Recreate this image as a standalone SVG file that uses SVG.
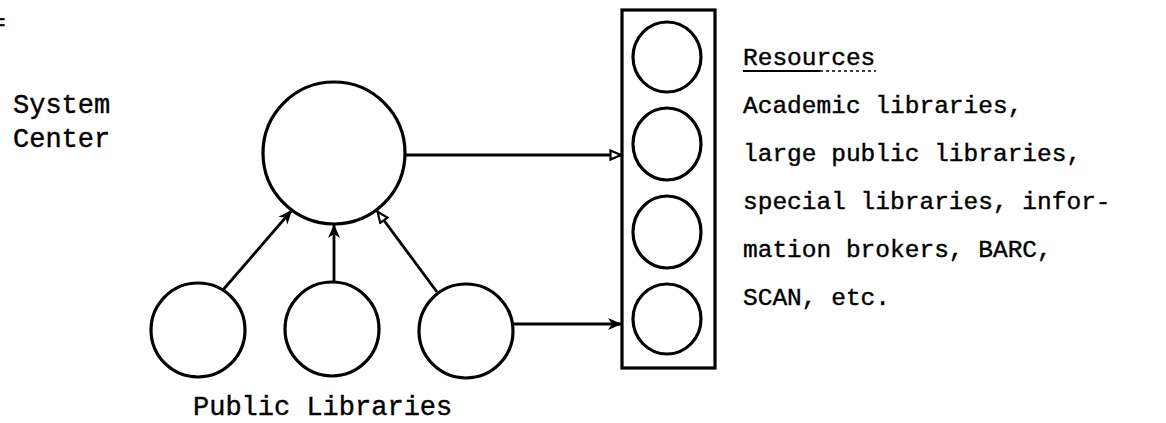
<svg xmlns="http://www.w3.org/2000/svg" width="1166" height="423" viewBox="0 0 1166 423">
  <defs>
    <marker id="head" markerUnits="userSpaceOnUse" markerWidth="16" markerHeight="14" refX="14" refY="6" orient="auto">
      <path d="M0,0 L14,6 L0,12 L4,6 z" fill="#000"/>
    </marker>
    <marker id="head-open" markerUnits="userSpaceOnUse" markerWidth="16" markerHeight="14" refX="13" refY="6" orient="auto">
      <path d="M1.5,1.5 L12,6 L1.5,10.5 z" fill="#fff" stroke="#000" stroke-width="2.2"/>
    </marker>
    <style>
      .node { fill: #fff; stroke: #000; stroke-width: 3.2; }
      .frame { fill: none; stroke: #000; stroke-width: 3.2; }
      .edge { fill: none; stroke: #000; stroke-width: 2.8; }
      .label { font-family: "Liberation Mono", "Courier New", monospace; fill: #000; stroke: #000; stroke-width: 0.4; }
      .left { font-size: 27px; }
      .right { font-size: 24.5px; }
    </style>
  </defs>

  <rect width="1166" height="423" fill="#fff"/>

  <!-- edge of a character cut off at the margin -->
  <text class="label right" x="-9" y="30">=</text>

  <g id="system-center">
    <circle class="node" cx="334" cy="153" r="71"/>
    <text class="label left" x="13" y="113">System</text>
    <text class="label left" x="13" y="147">Center</text>
  </g>

  <g id="public-libraries">
    <circle class="node" cx="198" cy="330" r="47"/>
    <circle class="node" cx="332" cy="329" r="47"/>
    <circle class="node" cx="466" cy="331" r="47"/>
    <text class="label left" x="193" y="415">Public Libraries</text>
  </g>

  <g id="resources">
    <rect class="frame" x="622" y="10" width="93" height="358"/>
    <ellipse class="node" cx="667" cy="57" rx="34" ry="35"/>
    <ellipse class="node" cx="667" cy="144" rx="34" ry="36"/>
    <ellipse class="node" cx="667" cy="232" rx="34" ry="36"/>
    <ellipse class="node" cx="667" cy="319" rx="34" ry="35"/>
    <text class="label right" x="743" y="65">Resources</text>
    <line x1="743" y1="71" x2="820" y2="71" stroke="#000" stroke-width="2"/>
    <line x1="820" y1="71" x2="876" y2="71" stroke="#000" stroke-width="1.6" stroke-dasharray="3 3"/>
    <text class="label right" x="743" y="113">Academic libraries,</text>
    <text class="label right" x="743" y="161">large public libraries,</text>
    <text class="label right" x="743" y="209">special libraries, infor-</text>
    <text class="label right" x="743" y="257">mation brokers, BARC,</text>
    <text class="label right" x="743" y="305">SCAN, etc.</text>
  </g>

  <g id="connectors">
    <line class="edge" x1="405" y1="155" x2="622" y2="155" marker-end="url(#head-open)"/>
    <line class="edge" x1="513" y1="324" x2="622" y2="324" marker-end="url(#head)"/>
    <line class="edge" x1="223" y1="290" x2="292" y2="210" marker-end="url(#head)"/>
    <line class="edge" x1="334" y1="282" x2="334" y2="224" marker-end="url(#head)"/>
    <line class="edge" x1="437" y1="292" x2="377" y2="211" marker-end="url(#head-open)"/>
  </g>
</svg>
